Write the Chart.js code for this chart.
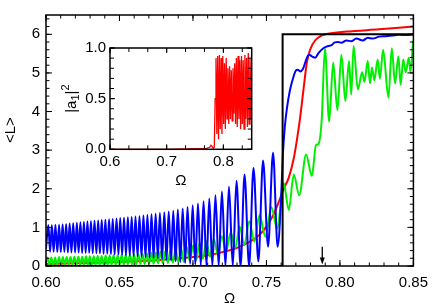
<!DOCTYPE html>
<html><head><meta charset="utf-8">
<script src="https://cdn.jsdelivr.net/npm/chart.js@4.4.0/dist/chart.umd.min.js"></script>
<style>
html,body{margin:0;padding:0;background:#fff;overflow:hidden}
#wrap{position:relative;width:436px;height:305px}
#main{position:absolute;left:0;top:0}
#inset{position:absolute;left:50px;top:35px}
</style></head><body>
<div id="wrap"><canvas id="main" width="436" height="305"></canvas><canvas id="inset" width="210" height="155"></canvas></div>
<script>
// ---------- main panel data ----------
const xTicks = [0.60, 0.65, 0.70, 0.75, 0.80, 0.85];
const yTicks = [0, 1, 2, 3, 4, 5, 6];
const yTitle = '<L>';
const xTitle = 'Ω';

const blackX = [0.600, 0.761, 0.761, 0.850];
const blackY = [0, 0, 6, 6];

const redX = [0.600,0.620,0.640,0.660,0.680,0.700,0.710,0.720,0.730,0.740,0.745,0.750,0.755,0.758,0.7618,0.7652,0.7686,0.7708,0.7730,0.7753,0.7775,0.7797,0.7831,0.7876,0.7909,0.8044,0.8267,0.8500];
const redY = [0.05,0.07,0.09,0.12,0.16,0.23,0.28,0.36,0.47,0.66,0.80,1.02,1.35,1.62,2.00,2.29,2.79,3.28,3.86,4.60,5.27,5.60,5.84,5.97,6.01,6.07,6.13,6.20];

const blueX = [0.6000,0.6016,0.6028,0.6040,0.6052,0.6064,0.6077,0.6089,0.6101,0.6113,
0.6125,0.6137,0.6149,0.6161,0.6173,0.6185,0.6198,0.6210,0.6222,0.6234,
0.6246,0.6258,0.6270,0.6282,0.6294,0.6306,0.6318,0.6330,0.6343,0.6355,
0.6367,0.6379,0.6392,0.6404,0.6417,0.6429,0.6442,0.6454,0.6467,0.6480,
0.6493,0.6505,0.6518,0.6531,0.6544,0.6557,0.6570,0.6583,0.6596,0.6609,
0.6623,0.6636,0.6650,0.6663,0.6677,0.6690,0.6704,0.6718,0.6732,0.6746,
0.6761,0.6775,0.6790,0.6805,0.6820,0.6835,0.6851,0.6866,0.6882,0.6897,
0.6914,0.6930,0.6947,0.6963,0.6981,0.6998,0.7016,0.7034,0.7053,0.7072,
0.7092,0.7111,0.7132,0.7153,0.7175,0.7197,0.7221,0.7245,0.7271,0.7296,
0.7324,0.7351,0.7382,0.7412,0.7445,0.7477,0.7511,0.7545,0.7576,0.7598,
0.7612,0.7625,0.7640,0.7660,0.7680,0.7700,0.7713,0.7730,0.7748,0.7775,
0.7790,0.7809,0.7831,0.7854,0.7887,0.7909,0.7943,0.7965,0.7988,0.8010,
0.8044,0.8077,0.8111,0.8156,0.8189,0.8223,0.8267,0.8312,0.8357,0.8402,
0.8447,0.8500];
const blueY = [0.45,1.06,0.37,1.06,0.37,1.07,0.36,1.07,0.36,1.08,
0.36,1.09,0.35,1.10,0.35,1.11,0.35,1.12,0.35,1.13,
0.34,1.14,0.34,1.15,0.34,1.16,0.33,1.17,0.33,1.18,
0.33,1.19,0.32,1.20,0.32,1.21,0.31,1.22,0.30,1.23,
0.30,1.24,0.29,1.25,0.28,1.26,0.27,1.27,0.26,1.28,
0.25,1.29,0.24,1.31,0.23,1.32,0.22,1.34,0.21,1.35,
0.20,1.37,0.18,1.39,0.16,1.41,0.14,1.43,0.12,1.46,
0.10,1.49,0.08,1.53,0.06,1.57,0.04,1.62,0.02,1.68,
0.01,1.75,0.00,1.83,0.00,1.93,0.00,2.06,0.00,2.21,
0.00,2.37,0.00,2.54,0.12,2.73,0.50,2.93,0.50,1.60,
2.90,3.60,4.10,4.55,4.85,5.06,5.08,5.04,5.10,5.39,
5.47,5.43,5.39,5.51,5.64,5.68,5.72,5.79,5.80,5.78,
5.84,5.82,5.89,5.84,5.91,5.89,5.94,5.95,5.97,5.99,
5.98,5.99];

const greenX = [0.6000,0.6010,0.6023,0.6036,0.6049,0.6062,0.6075,0.6089,0.6102,0.6115,
0.6128,0.6141,0.6154,0.6167,0.6180,0.6193,0.6206,0.6220,0.6233,0.6246,
0.6259,0.6272,0.6285,0.6298,0.6311,0.6325,0.6338,0.6352,0.6365,0.6379,
0.6392,0.6406,0.6419,0.6433,0.6446,0.6460,0.6474,0.6488,0.6501,0.6515,
0.6529,0.6543,0.6557,0.6571,0.6585,0.6599,0.6613,0.6628,0.6642,0.6657,
0.6671,0.6686,0.6701,0.6717,0.6732,0.6747,0.6763,0.6779,0.6795,0.6812,
0.6829,0.6846,0.6864,0.6882,0.6900,0.6919,0.6938,0.6958,0.6979,0.7000,
0.7022,0.7044,0.7067,0.7091,0.7116,0.7142,0.7169,0.7196,0.7226,0.7257,
0.7287,0.7318,0.7350,0.7383,0.7418,0.7453,0.7493,0.7533,0.7573,0.7617,
0.7652,0.7686,0.7723,0.7770,0.7809,0.7837,0.7854,0.7876,0.7898,0.7927,
0.7954,0.7983,0.8010,0.8037,0.8062,0.8077,0.8093,0.8122,0.8151,0.8167,
0.8189,0.8205,0.8218,0.8234,0.8257,0.8272,0.8294,0.8330,0.8353,0.8375,
0.8398,0.8413,0.8431,0.8447,0.8469,0.8480,0.8498];
const greenY = [0.10,0.22,0.02,0.22,0.02,0.22,0.02,0.23,0.02,0.23,
0.02,0.23,0.02,0.23,0.02,0.24,0.02,0.24,0.02,0.24,
0.02,0.25,0.02,0.25,0.02,0.25,0.02,0.26,0.02,0.26,
0.02,0.27,0.02,0.27,0.03,0.28,0.03,0.28,0.03,0.29,
0.03,0.29,0.04,0.30,0.04,0.30,0.04,0.31,0.05,0.32,
0.05,0.33,0.06,0.34,0.06,0.35,0.07,0.37,0.07,0.39,
0.08,0.41,0.09,0.43,0.10,0.46,0.11,0.49,0.13,0.53,
0.15,0.58,0.19,0.64,0.24,0.70,0.30,0.77,0.38,0.88,
0.46,1.02,0.54,1.16,0.63,1.32,0.76,1.52,0.97,2.15,
1.45,2.37,1.83,2.89,2.33,3.13,3.16,3.78,5.64,3.74,
5.27,4.03,5.47,4.27,5.31,4.44,5.70,4.57,5.02,4.77,
5.31,4.73,5.14,4.81,5.35,4.85,5.60,4.36,5.64,4.73,
5.43,4.69,5.35,5.02,5.39,5.02,5.84];

const arrowX = 0.788, arrowFrom = 0.50, arrowTo = 0.04;

// ---------- inset data ----------
const insetXTicks = [0.6, 0.7, 0.8];
const insetYTicks = [0.0, 0.5, 1.0];
const insetX = [0.600,0.700,0.770,0.776,0.778,0.780,0.782,0.784,0.7855,0.787,
0.7885,0.790,0.7915,0.793,0.7945,0.796,0.7975,0.799,0.8005,0.802,
0.8035,0.805,0.8065,0.808,0.8095,0.811,0.8125,0.814,0.8155,0.817,
0.8185,0.820,0.8215,0.823,0.8245,0.826,0.8275,0.829,0.8305,0.832,
0.8335,0.835,0.8365,0.838,0.8395,0.841,0.8425,0.844,0.8455,0.847,
0.8485,0.850];
const insetY = [0.00,0.00,0.01,0.02,0.04,0.03,0.01,0.02,0.50,0.90,
0.15,0.92,0.10,0.93,0.20,0.90,0.15,0.92,0.25,0.85,
0.20,0.90,0.30,0.80,0.25,0.82,0.30,0.78,0.28,0.80,
0.35,0.85,0.25,0.90,0.22,0.92,0.30,0.88,0.20,0.92,
0.25,0.88,0.20,0.93,0.30,0.90,0.22,0.95,0.25,0.90,
0.30,0.88];

// ---------- helpers ----------
const pts = (xs, ys) => xs.map((x, i) => ({x: x, y: ys[i]}));
const range = (a, b, s) => { const r = []; for (let v = a; v <= b + s / 2; v += s) r.push(+v.toFixed(6)); return r; };
const FONT = '"Liberation Sans", Arial, Helvetica, sans-serif';

Chart.defaults.font.family = FONT;
Chart.defaults.font.size = 15;
Chart.defaults.color = '#000';

const frameTicks = {
  id: 'frameTicks',
  afterDatasetsDraw(chart, args, o) {
    const {ctx, chartArea: a, scales} = chart;
    const sx = scales.x, sy = scales.y;
    ctx.save();
    ctx.strokeStyle = '#000';
    ctx.lineWidth = 1;
    ctx.beginPath();
    const vt = (v, L) => { const p = sx.getPixelForValue(v); ctx.moveTo(p, a.bottom); ctx.lineTo(p, a.bottom - L); ctx.moveTo(p, a.top); ctx.lineTo(p, a.top + L); };
    const ht = (v, L) => { const p = sy.getPixelForValue(v); ctx.moveTo(a.left, p); ctx.lineTo(a.left + L, p); ctx.moveTo(a.right, p); ctx.lineTo(a.right - L, p); };
    o.xMinor.forEach(v => vt(v, o.minorLen));
    o.xMajor.forEach(v => vt(v, o.majorLen));
    o.yMinor.forEach(v => ht(v, o.minorLen));
    o.yMajor.forEach(v => ht(v, o.majorLen));
    ctx.stroke();
    ctx.lineWidth = o.frameWidth;
    ctx.strokeRect(a.left, a.top, a.right - a.left, a.bottom - a.top);
    ctx.restore();
  }
};

const arrowPlugin = {
  id: 'arrowMark',
  afterDatasetsDraw(chart, args, o) {
    if (!o || o.x === undefined) return;
    const {ctx, scales} = chart;
    const x = scales.x.getPixelForValue(o.x);
    const y1 = scales.y.getPixelForValue(o.from);
    const y2 = scales.y.getPixelForValue(o.to);
    ctx.save();
    ctx.strokeStyle = '#000'; ctx.fillStyle = '#000'; ctx.lineWidth = 1.3;
    ctx.beginPath(); ctx.moveTo(x, y1); ctx.lineTo(x, y2 - 5); ctx.stroke();
    ctx.beginPath(); ctx.moveTo(x - 2.5, y2 - 7); ctx.lineTo(x + 2.5, y2 - 7); ctx.lineTo(x, y2); ctx.closePath(); ctx.fill();
    ctx.restore();
  }
};

// y-axis title of the main panel, placed beside the axis (slightly above centre as in the source)
const mainYTitle = {
  id: 'mainYTitle',
  afterDraw(chart) {
    const {ctx, scales} = chart;
    ctx.save();
    ctx.translate(11, scales.y.getPixelForValue(3.52));
    ctx.rotate(-Math.PI / 2);
    ctx.font = '15px ' + FONT;
    ctx.fillStyle = '#000';
    ctx.textAlign = 'center';
    ctx.textBaseline = 'middle';
    ctx.fillText(yTitle, 0, 0);
    ctx.restore();
  }
};

const whiteBg = {
  id: 'whiteBg',
  beforeDraw(chart) {
    const {ctx, chartArea: a} = chart;
    ctx.save(); ctx.fillStyle = '#fff'; ctx.fillRect(a.left, a.top, a.right - a.left, a.bottom - a.top); ctx.restore();
  }
};

const insetTitle = {
  id: 'insetTitle',
  afterDraw(chart) {
    const {ctx, chartArea: a} = chart;
    ctx.save();
    ctx.translate(a.left - 38, (a.top + a.bottom) / 2);
    ctx.rotate(-Math.PI / 2);
    ctx.fillStyle = '#000';
    ctx.textBaseline = 'middle';
    const big = '15px ' + FONT;
    const small = '11px ' + FONT;
    ctx.font = big; const w1 = ctx.measureText('|a').width, w3 = ctx.measureText('|').width;
    ctx.font = small; const w2 = ctx.measureText('1').width, w4 = ctx.measureText('2').width;
    let x = -(w1 + w2 + w3 + w4) / 2;
    ctx.font = big; ctx.fillText('|a', x, 0); x += w1;
    ctx.font = small; ctx.fillText('1', x, 4); x += w2;
    ctx.font = big; ctx.fillText('|', x, 0); x += w3;
    ctx.font = small; ctx.fillText('2', x, -6);
    ctx.restore();
  }
};

const line = (xs, ys, color, order, mode) => ({
  data: pts(xs, ys), borderColor: color, borderWidth: 2, pointRadius: 0,
  cubicInterpolationMode: mode || 'default', tension: mode ? 0.4 : 0, order: order, fill: false
});

new Chart(document.getElementById('main'), {
  type: 'line',
  data: { datasets: [
    line(blackX, blackY, '#000000', 1),
    line(blueX, blueY, '#0000ff', 2, 'monotone'),
    line(greenX, greenY, '#00ee00', 3, 'monotone'),
    line(redX, redY, '#ff0000', 4, 'monotone')
  ]},
  options: {
    responsive: false, animation: false, events: [],
    layout: { padding: { top: 4, right: 18, left: 0, bottom: 0 } },
    plugins: {
      legend: { display: false }, tooltip: { enabled: false },
      frameTicks: { xMajor: xTicks, xMinor: range(0.60, 0.85, 0.01), yMajor: yTicks, yMinor: range(0, 6.4, 0.2), majorLen: 6, minorLen: 3.5, frameWidth: 1.5 },
      arrowMark: { x: arrowX, from: arrowFrom, to: arrowTo }
    },
    scales: {
      x: { type: 'linear', min: 0.6, max: 0.85,
        afterBuildTicks: s => { s.ticks = xTicks.map(v => ({value: v})); },
        afterFit: s => { s.height = 39; },
        ticks: { callback: v => v.toFixed(2), padding: 8, maxRotation: 0, autoSkip: false },
        grid: { display: false, drawTicks: false }, border: { display: false },
        title: { display: true, text: xTitle, padding: { top: 0, bottom: -3 } } },
      y: { type: 'linear', min: 0, max: 6.5,
        afterBuildTicks: s => { s.ticks = yTicks.map(v => ({value: v})); },
        afterFit: s => { s.width = 46; },
        ticks: { callback: v => String(v), padding: 6 },
        grid: { display: false, drawTicks: false }, border: { display: false },
        title: { display: false } }
    }
  },
  plugins: [frameTicks, arrowPlugin, mainYTitle]
});

new Chart(document.getElementById('inset'), {
  type: 'line',
  data: { datasets: [ { data: pts(insetX, insetY), borderColor: '#ff0000', borderWidth: 1.3, pointRadius: 0, tension: 0, fill: false } ] },
  options: {
    responsive: false, animation: false, events: [],
    layout: { padding: { top: 8.3, right: 8.3, left: 0, bottom: 0 } },
    plugins: {
      legend: { display: false }, tooltip: { enabled: false },
      frameTicks: { xMajor: insetXTicks, xMinor: range(0.6, 0.85, 0.1 / 3), yMajor: insetYTicks, yMinor: range(0, 1.0, 0.1), majorLen: 5, minorLen: 4, frameWidth: 1.5 }
    },
    scales: {
      x: { type: 'linear', min: 0.6, max: 0.85,
        afterBuildTicks: s => { s.ticks = insetXTicks.map(v => ({value: v})); },
        afterFit: s => { s.height = 40.7; },
        ticks: { callback: v => v.toFixed(1), padding: 4, maxRotation: 0, autoSkip: false },
        grid: { display: false, drawTicks: false }, border: { display: false },
        title: { display: true, text: xTitle, padding: { top: 0, bottom: 0 } } },
      y: { type: 'linear', min: 0, max: 1.0,
        afterBuildTicks: s => { s.ticks = insetYTicks.map(v => ({value: v})); },
        afterFit: s => { s.width = 60; },
        ticks: { callback: v => v.toFixed(1), padding: 4 },
        grid: { display: false, drawTicks: false }, border: { display: false } }
    }
  },
  plugins: [whiteBg, frameTicks, insetTitle]
});
</script>
</body></html>
